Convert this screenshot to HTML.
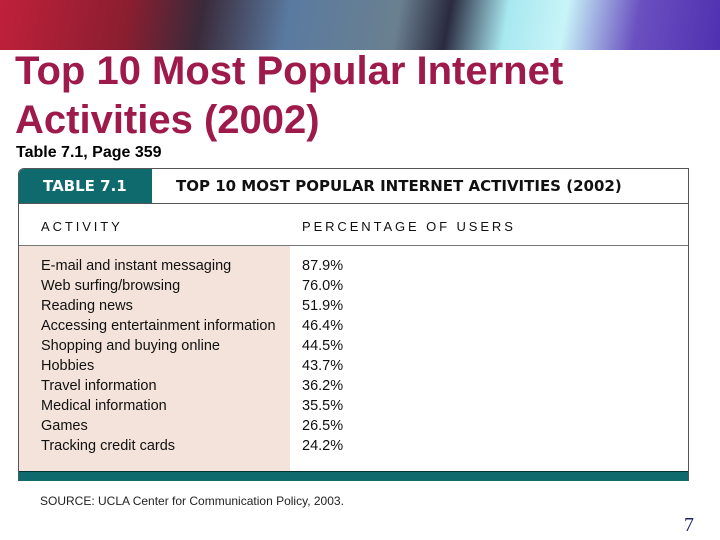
<!DOCTYPE html>
<html><head><meta charset="utf-8"><style>
body{margin:0;width:720px;height:540px;background:#fff;position:relative;overflow:hidden;font-family:"Liberation Sans",sans-serif}
.abs{position:absolute}
#banner{left:0;top:0;width:720px;height:50px;background:linear-gradient(100deg,#c0203a 0%,#8a1e30 18%,#3a2a3a 28%,#5a7aa0 40%,#6a8090 55%,#2a2a40 62%,#a8e8f0 70%,#c8f4f8 78%,#6a50c0 88%,#5030b0 100%)}
h1{position:absolute;left:15px;top:47px;margin:0;font:bold 40px/49px "Liberation Sans",sans-serif;color:#9e1a4a}
#sub{left:16px;top:144px;font:bold 16px "Liberation Sans",sans-serif;color:#000}
#tbl{left:18px;top:168px;width:671px;height:313px;border:1px solid #555;border-bottom:none;box-sizing:border-box;background:#fff;border-radius:6px 0 0 0;overflow:hidden}
.nf{font-family:"Liberation Sans Narrow","Liberation Sans",sans-serif}
.row{position:absolute;font-size:14.5px;color:#111}
</style></head><body>
<div id="banner" class="abs"></div>
<h1>Top 10 Most Popular Internet<br>Activities (2002)</h1>
<div id="sub" class="abs">Table 7.1, Page 359</div>
<div id="tbl" class="abs">
  <div class="abs" style="left:0;top:0;width:133px;height:34px;background:#0e6a6c"></div>
  <div class="abs" style="left:24px;top:8px;color:#fff;font:bold 15px 'DejaVu Sans',sans-serif">TABLE 7.1</div>
  <div class="abs" style="left:157px;top:8px;color:#111;font:bold 15px 'DejaVu Sans',sans-serif">TOP 10 MOST POPULAR INTERNET ACTIVITIES (2002)</div>
  <div class="abs" style="left:0;top:34px;width:671px;height:1px;background:#555"></div>
  <div class="abs" style="left:22px;top:50px;font-size:13px;letter-spacing:2.9px;color:#111">ACTIVITY</div>
  <div class="abs" style="left:283px;top:50px;font-size:13px;letter-spacing:2.9px;color:#111">PERCENTAGE OF USERS</div>
  <div class="abs" style="left:0;top:76px;width:671px;height:1px;background:#777"></div>
  <div class="abs" style="left:0;top:77px;width:271px;height:225px;background:#f3e3da"></div>
  <div class="abs" style="left:0;top:302px;width:671px;height:11px;background:#0e6a6c;border-top:1px solid #033"></div>
  <div id="rows"></div>
</div>
<div class="abs nf" style="left:40px;top:494px;font-size:12px;color:#222">SOURCE: UCLA Center for Communication Policy, 2003.</div>
<div class="abs" style="left:684px;top:514px;font:20px 'Liberation Serif',serif;color:#222266">7</div>
<script>
const activities=["E-mail and instant messaging","Web surfing/browsing","Reading news","Accessing entertainment information","Shopping and buying online","Hobbies","Travel information","Medical information","Games","Tracking credit cards"];
const percentages=["87.9%","76.0%","51.9%","46.4%","44.5%","43.7%","36.2%","35.5%","26.5%","24.2%"];
const rows=document.getElementById('rows');
activities.forEach((a,i)=>{
  const y=89+i*20;
  const d=document.createElement('div');d.className='row nf';d.style.left='22px';d.style.top=y+'px';d.textContent=a;
  
  
  rows.appendChild(d);
  const p=document.createElement('div');p.className='row nf';p.style.left='283px';p.style.top=y+'px';p.textContent=percentages[i];
  
  
  rows.appendChild(p);
});
</script>
</body></html>
